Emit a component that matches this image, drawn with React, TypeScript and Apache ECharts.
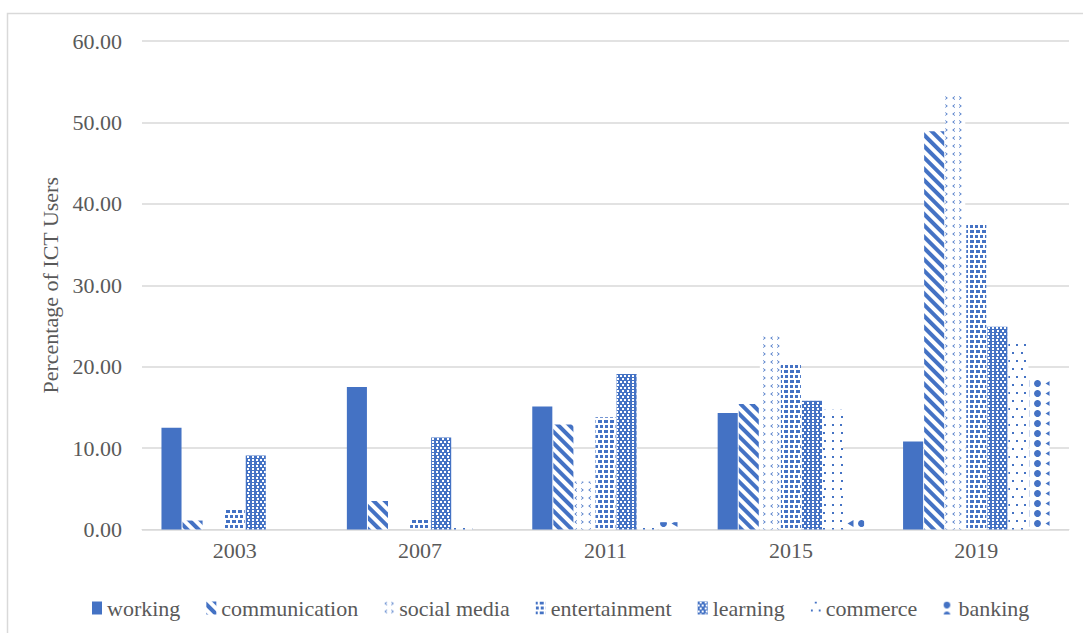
import React, { useEffect, useRef } from "react";
import * as echarts from "echarts";

const years = ["2003", "2007", "2011", "2015", "2019"];
const seriesNames = ["working", "communication", "social media", "entertainment", "learning", "commerce", "banking"];
const working = [12.5, 17.5, 15.1, 14.3, 10.8];
const communication = [1.1, 3.5, 12.9, 15.4, 48.9];
const socialMedia = [0, 0, 5.9, 23.7, 53.6];
const entertainment = [2.5, 1.4, 13.8, 20.2, 37.6];
const learning = [9.1, 11.3, 19.1, 15.8, 24.9];
const commerce = [0, 0.7, 0.8, 14.7, 22.8];
const banking = [0, 0, 0.9, 1.3, 18.5];
const yTicks = { min: 0, max: 60, interval: 10 };

const BLUE = "#4472C4";
const TEXT = "#595959";
const FONT = "Liberation Serif";

const decals: any[] = [
  null,
  { symbol: "rect", color: BLUE, dashArrayX: [1, 0], dashArrayY: [3.5, 3.5], rotation: Math.PI / 4, symbolSize: 1 },
  {
    symbol: ["path://M4,0L0,3L4,6L4,4.6L1.8,3L4,1.4Z", "path://M0,0L4,3L0,6L0,4.6L2.2,3L0,1.4Z"],
    color: BLUE,
    dashArrayX: [3, 4],
    dashArrayY: [3.5, 4],
    symbolSize: 1,
  },
  { symbol: "rect", color: BLUE, dashArrayX: [[2.5, 2], [1.25, 2, 1.25, 0]], dashArrayY: [2.5, 1.5], symbolSize: 1 },
  { symbol: "rect", color: "#ffffff", dashArrayX: [[1.2, 1.8], [0, 1.5, 1.2, 0.3]], dashArrayY: [1.2, 0.8], symbolSize: 1 },
  { symbol: "rect", color: BLUE, dashArrayX: [[1.5, 6], [0, 3.75, 1.5, 2.25]], dashArrayY: [1.5, 6], symbolSize: 1 },
  {
    symbol: ["circle", "path://M6,0L0,3.5L6,7Z"],
    color: BLUE,
    dashArrayX: [7, 4],
    dashArrayY: [7, 2.5],
    symbolSize: 1,
  },
];

const dataSets = [working, communication, socialMedia, entertainment, learning, commerce, banking];

export default function App() {
  const ref = useRef<HTMLDivElement>(null);
  useEffect(() => {
    if (!ref.current) return;
    const chart = echarts.init(ref.current, null, { renderer: "svg" });
    const series = seriesNames.map((name, i) => {
      const solid = i === 0 || i === 4;
      const itemStyle: any = { color: solid ? BLUE : "#ffffff" };
      if (decals[i]) itemStyle.decal = decals[i];
      return {
        name,
        type: "bar",
        data: dataSets[i],
        barGap: "5%",
        barCategoryGap: "21%",
        itemStyle,
      };
    });
    chart.setOption({
      animation: false,
      backgroundColor: "#ffffff",
      textStyle: { fontFamily: FONT },
      grid: { left: 142, right: 14, top: 41, bottom: 103.5, containLabel: false },
      graphic: [
        {
          type: "rect",
          shape: { x: 7.5, y: 13.5, width: 1100, height: 640 },
          style: { fill: "none", stroke: "#d9d9d9", lineWidth: 1.5 },
          silent: true,
        },
      ],
      legend: {
        left: 87,
        top: 592,
        itemWidth: 10,
        itemHeight: 13,
        itemGap: 26,
        icon: "rect",
        textStyle: { fontFamily: FONT, fontSize: 22, color: TEXT },
        data: seriesNames,
      },
      xAxis: {
        type: "category",
        data: years,
        axisLine: { lineStyle: { color: "#d9d9d9", width: 1 } },
        axisTick: { show: false },
        axisLabel: { fontFamily: FONT, fontSize: 22, color: TEXT, margin: 10 },
      },
      yAxis: {
        type: "value",
        min: yTicks.min,
        max: yTicks.max,
        interval: yTicks.interval,
        name: "Percentage of ICT Users",
        nameLocation: "middle",
        nameGap: 76,
        nameTextStyle: { fontFamily: FONT, fontSize: 22, color: TEXT },
        axisLine: { show: false },
        axisTick: { show: false },
        splitLine: { lineStyle: { color: "#d9d9d9", width: 1.5 } },
        axisLabel: {
          fontFamily: FONT,
          fontSize: 22,
          color: TEXT,
          margin: 20,
          formatter: (v: number) => v.toFixed(2),
        },
      },
      series,
    });
    return () => chart.dispose();
  }, []);
  return <div ref={ref} style={{ position: "absolute", left: 0, top: 0, width: 1083, height: 633 }} />;
}
